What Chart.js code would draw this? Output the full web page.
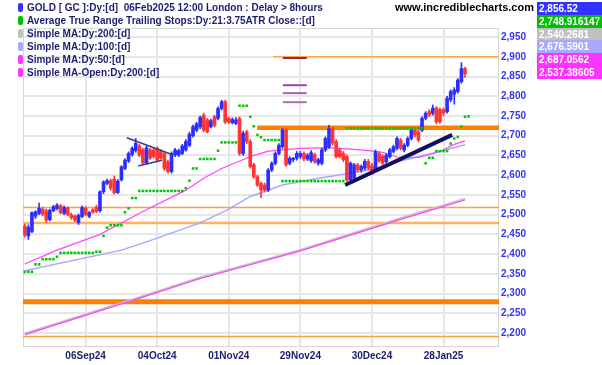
<!DOCTYPE html>
<html><head><meta charset="utf-8">
<script src="https://cdn.jsdelivr.net/npm/chart.js@4/dist/chart.umd.min.js"></script>
<style>
html,body{margin:0;padding:0;background:#fff;width:602px;height:365px;overflow:hidden}
#wrap{position:relative;width:602px;height:365px}
#c{position:absolute;left:0;top:0}
.leg{position:absolute;left:27px;font:bold 10px "Liberation Sans",Arial,sans-serif;color:#1c1c70;white-space:pre;line-height:13px;height:13px}
.mk{position:absolute;left:18px;width:5px;height:9px;border-radius:2px}
.vb{position:absolute;left:537px;width:63px;height:13px;font:bold 10px "Liberation Sans",Arial,sans-serif;color:#fff;padding-left:2px;line-height:13px;white-space:pre}
#www{position:absolute;left:395px;top:1px;font:bold 11px "Liberation Sans",Arial,sans-serif;color:#000;line-height:13px}
</style></head>
<body><div id="wrap"><canvas id="c" width="602" height="365"></canvas></div>
<script>
// ---------- data ----------
const xTickIdx  = [17, 37, 57, 77, 97, 117];
const xTickText = ['06Sep24','04Oct24','01Nov24','29Nov24','30Dec24','28Jan25'];
const yTickVals = [2200,2250,2300,2350,2400,2450,2500,2550,2600,2650,2700,2750,2800,2850,2900,2950];

const candleOpen = [
2471,2446,2457,2496,2503,2514,2510,2487,2510,2515,
2522,2503,2517,2500,2496,2480,2495,2516,2496,2512,
2518,2510,2558,2579,2586,2590,2556,2588,2617,2636,
2652,2662,2674,2664,2631,2664,2664,2668,2660,2655,
2634,2609,2651,2651,2655,2664,2676,2700,2714,2722,
2752,2740,2723,2748,2744,2769,2786,2744,2733,2731,
2744,2655,2710,2685,2626,2596,2579,2575,2562,2613,
2630,2655,2672,2714,2630,2639,2643,2647,2655,2641,
2637,2652,2630,2630,2664,2672,2718,2685,2664,2655,
2647,2588,2592,2626,2613,2618,2635,2624,2613,2655,
2648,2634,2647,2660,2668,2689,2664,2676,2693,2714,
2710,2714,2744,2761,2757,2770,2766,2766,2761,2791,
2805,2812,2837,2870];
const candleHigh = [
2476,2474,2507,2510,2529,2518,2514,2514,2524,2528,
2526,2522,2520,2504,2499,2502,2522,2520,2508,2515,
2524,2560,2586,2590,2590,2598,2589,2624,2642,2659,
2672,2693,2678,2668,2674,2668,2668,2672,2664,2658,
2638,2659,2668,2666,2678,2690,2709,2727,2734,2750,
2757,2744,2742,2752,2773,2790,2790,2748,2745,2746,
2748,2712,2714,2690,2630,2600,2583,2580,2617,2634,
2659,2680,2718,2718,2647,2645,2660,2660,2659,2655,
2662,2656,2643,2668,2697,2726,2722,2690,2668,2660,
2652,2634,2630,2630,2626,2640,2640,2630,2664,2660,
2652,2655,2668,2676,2697,2693,2680,2697,2718,2718,
2714,2748,2761,2766,2778,2774,2770,2770,2800,2816,
2822,2845,2885,2874];
const candleLow = [
2443,2437,2454,2490,2500,2497,2480,2484,2507,2512,
2502,2500,2497,2488,2482,2475,2492,2497,2492,2503,
2505,2506,2553,2576,2562,2552,2553,2585,2614,2632,
2648,2658,2647,2627,2627,2640,2643,2634,2640,2612,
2605,2605,2647,2647,2652,2661,2672,2696,2710,2718,
2710,2707,2720,2722,2740,2765,2730,2731,2730,2728,
2650,2650,2680,2618,2592,2571,2543,2557,2558,2609,
2626,2651,2668,2622,2626,2634,2638,2642,2636,2637,
2632,2630,2625,2626,2660,2668,2676,2643,2643,2634,
2584,2584,2588,2608,2608,2613,2613,2602,2609,2632,
2626,2630,2643,2656,2664,2664,2659,2672,2689,2697,
2684,2710,2740,2748,2752,2730,2731,2750,2757,2786,
2780,2808,2833,2848];
const candleClose = [
2448,2468,2505,2507,2516,2501,2486,2511,2520,2524,
2505,2518,2500,2492,2486,2498,2518,2500,2505,2506,
2508,2558,2583,2586,2567,2555,2585,2621,2638,2655,
2668,2681,2651,2631,2669,2643,2647,2638,2643,2617,
2609,2655,2664,2662,2674,2685,2704,2723,2730,2746,
2714,2710,2738,2726,2769,2786,2735,2734,2741,2740,
2655,2706,2685,2622,2596,2575,2562,2562,2613,2630,
2655,2676,2714,2626,2643,2643,2655,2655,2641,2650,
2657,2634,2639,2664,2693,2718,2681,2647,2647,2639,
2588,2630,2626,2613,2622,2635,2618,2607,2659,2636,
2630,2651,2664,2672,2693,2668,2676,2693,2714,2702,
2689,2744,2757,2753,2770,2735,2735,2757,2795,2812,
2816,2841,2870,2857];

// ATR trailing stop, one value per bar (last one is next bar)
const atrStop = [
2355,2355,2355,2374,2374,2387,2387,2387,2387,2393,
2403,2403,2403,2403,2403,2403,2403,2403,2403,2403,
2406,2406,2446,2467,2473,2473,2473,2473,2506,2516,
2542,2542,2560,2560,2560,2560,2560,2560,2560,2560,
2560,2560,2560,2560,2560,2567,2586,2617,2617,2641,
2641,2641,2641,2641,2662,2683,2683,2683,2683,2683,
2776,2776,2776,2748,2724,2702,2696,2689,2689,2689,
2689,2689,2585,2585,2585,2585,2585,2585,2585,2585,
2585,2585,2585,2585,2585,2585,2585,2585,2585,2585,
2719,2719,2719,2719,2719,2719,2719,2719,2719,2719,
2719,2719,2719,2719,2719,2719,2719,2719,2719,2719,
2719,2719,2630,2644,2644,2661,2661,2661,2661,2680,
2693,2697,2723,2748,2749];

// moving averages read at sampled bars
const sma50Idx  = [0,9,21,33,45,50,55,59,63,68,77,85,91,96,100,104,110,116,120,123];
const sma50Val  = [2375,2410,2450,2508,2562,2592,2617,2632,2647,2661,2668,2670,2666,2662,2658,2646,2645,2660,2678,2687];
const sma100Idx = [0,27,34,49,57,63,72,82,91,97,104,113,123];
const sma100Val = [2358,2410,2431,2479,2514,2546,2575,2592,2605,2615,2634,2653,2677];
const sma200Idx = [0,31,49,77,105,123];
const sma200Val = [2198,2287,2340,2410,2490,2540];
const smaOpen200Idx = [0,31,49,77,105,123];
const smaOpen200Val = [2196,2285,2338,2408,2488,2537];

// horizontal levels
const levelVal   = [2900, 2720, 2518, 2479, 2279, 2191];
const levelStart = [69.4, 64.9, -0.5, -0.5, -0.5, -0.5];
const levelEnd   = [132.5,132.5,132.5,132.5,132.5,132.5];

// drawn trend lines
const trendUpperX = [28.5, 41.5], trendUpperY = [2695, 2651];
const trendLowerX = [31.7, 38.3], trendLowerY = [2623, 2638];
const trendMainX  = [89.5, 119.4], trendMainY = [2575, 2702];

// short marks near top
const markX = [72.1, 78.8];
const markVal = [2897, 2828, 2808, 2785];

// legend
const legendNames = ['GOLD [ GC ]:Dy:[d]  06Feb2025 12:00 London : Delay > 8hours',
  'Average True Range Trailing Stops:Dy:21:3.75ATR Close::[d]',
  'Simple MA:Dy:200:[d]','Simple MA:Dy:100:[d]','Simple MA:Dy:50:[d]','Simple MA-Open:Dy:200:[d]'];
const legendLast = ['2,856.52','2,748.916147','2,540.2681','2,676.5901','2,687.0562','2,537.38605'];
const legendColors = ['#3333ff','#00c000','#c0c0c0','#a8a8ff','#ff33ff','#ff33ff'];

// ---------- build ----------
const UP = '#2d2dff', DN = '#ff3535';
const nBars = candleOpen.length;
const bodies = [], wicks = [], barCols = [];
for (let i = 0; i < nBars; i++) {
  bodies.push({x: i, y: [candleOpen[i], candleClose[i]]});
  wicks.push({x: i, y: [candleLow[i], candleHigh[i]]});
  barCols.push(candleClose[i] >= candleOpen[i] ? UP : DN);
}
const pairs = (xs, ys) => xs.map((x, k) => ({x, y: ys[k]}));
const lineDs = (data, color, width, order) => ({type:'line', data, borderColor:color, borderWidth:width,
  pointRadius:0, tension:0, fill:false, order, spanGaps:true});

const levelColors = ['#ffa552','#ff8000','#ffa040','#ffb060','#ff8000','#ffa040'];
const levelWidths = [1.5, 4.5, 1.5, 2.5, 5, 1.5];
const markColors = ['#a0204f','#a040a8','#b060b8','#b868b8'];

const datasets = [];
levelVal.forEach((v, k) => datasets.push(lineDs([{x:levelStart[k], y:v},{x:levelEnd[k], y:v}], levelColors[k], levelWidths[k], 50)));
datasets.push(lineDs(pairs(sma200Idx, sma200Val), '#c4c4c4', 2.5, 40));
datasets.push(lineDs(pairs(smaOpen200Idx, smaOpen200Val), '#ff44ff', 1.2, 39));
datasets.push(lineDs(pairs(sma100Idx, sma100Val), '#a8a8ff', 1.5, 38));
datasets.push(lineDs(pairs(sma50Idx, sma50Val), '#ff44ff', 1.2, 37));
datasets.push({type:'bar', data:wicks, backgroundColor:barCols, barThickness:1, grouped:false, order:20, minBarLength:1});
datasets.push({type:'bar', data:bodies, backgroundColor:barCols, barThickness:3, grouped:false, order:19, minBarLength:1});
datasets.push({type:'line', data: atrStop.map((v,i)=>({x:i, y:v})), showLine:false, pointStyle:'rect',
  pointRadius:1.8, pointBackgroundColor:'#00c800', pointBorderWidth:0, order:10});
datasets.push(lineDs(pairs(trendUpperX, trendUpperY), '#3a3a88', 1.5, 5));
datasets.push(lineDs(pairs(trendLowerX, trendLowerY), '#3a3a88', 1.5, 5));
datasets.push(lineDs(pairs(trendMainX, trendMainY), '#10105e', 4, 5));
markVal.forEach((v, k) => datasets.push(lineDs([{x:markX[0], y:v},{x:markX[1], y:v}], markColors[k], 2, 2)));

const borderPlugin = {
  id:'areaBorder',
  beforeDatasetsDraw(chart){
    const a = chart.chartArea, ctx = chart.ctx;
    ctx.save(); ctx.strokeStyle = '#d6d6d6'; ctx.lineWidth = 1;
    ctx.strokeRect(a.left + 0.5, a.top + 0.5, a.right - a.left - 1, a.bottom - a.top);
    ctx.restore();
  }
};

Chart.defaults.font.family = '"Liberation Sans", Arial, sans-serif';
new Chart(document.getElementById('c'), {
  type: 'bar',
  data: {datasets},
  plugins: [borderPlugin],
  options: {
    responsive:false, animation:false, events:[],
    layout:{padding:{left:23, top:28, right:0, bottom:0}},
    plugins:{legend:{display:false}, tooltip:{enabled:false}},
    scales:{
      x:{type:'linear', min:-0.5, max:132.5, offset:false,
        grid:{color:'#e6e6e6', lineWidth:2, drawTicks:false, offset:false},
        border:{display:false},
        afterBuildTicks(s){ s.ticks = xTickIdx.map(v => ({value:v})); },
        afterFit(s){ s.height = 19; },
        ticks:{autoSkip:false, maxRotation:0, padding:4, color:'#1c1c70',
          font:{size:10, weight:'bold'},
          callback(v){ const k = xTickIdx.indexOf(v); return k >= 0 ? xTickText[k] : ''; }}
      },
      y:{type:'linear', position:'right', min:2167, max:2973, beginAtZero:false,
        grid:{color:'#e6e6e6', lineWidth:2, drawTicks:false},
        border:{display:false},
        afterBuildTicks(s){ s.ticks = yTickVals.map(v => ({value:v})); },
        afterFit(s){ s.width = 103; },
        ticks:{padding:2, color:'#3535ee', font:{size:10, weight:'bold'},
          callback(v){ return v.toLocaleString('en-US'); }}
      }
    }
  }
});

// legend overlay
const wrap = document.getElementById('wrap');
legendNames.forEach((t, k) => {
  const d = document.createElement('div'); d.className = 'leg'; d.style.top = (1 + k*13) + 'px'; d.textContent = t; wrap.appendChild(d);
  const m = document.createElement('div'); m.className = 'mk'; m.style.top = (3 + k*13) + 'px'; m.style.background = legendColors[k]; wrap.appendChild(m);
  const b = document.createElement('div'); b.className = 'vb'; b.style.top = (2 + k*12.75) + 'px'; b.style.background = legendColors[k]; b.textContent = legendLast[k]; wrap.appendChild(b);
});
const w = document.createElement('div'); w.id = 'www'; w.textContent = 'www.incrediblecharts.com'; wrap.appendChild(w);
</script>
</body></html>
